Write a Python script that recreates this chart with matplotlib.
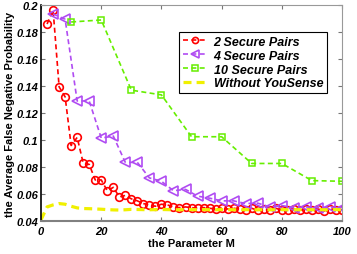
import matplotlib
matplotlib.use("Agg")
import matplotlib.pyplot as plt

x_red = list(range(2, 101, 2))
y_red = [0.186, 0.1965, 0.1395, 0.132, 0.096, 0.102, 0.083, 0.082, 0.0705, 0.0705,
         0.0625, 0.065, 0.058, 0.059, 0.0565, 0.055, 0.053, 0.052, 0.051, 0.0525,
         0.052, 0.0505, 0.050, 0.0505, 0.050, 0.0495, 0.050, 0.0495, 0.049, 0.0495,
         0.049, 0.0495, 0.049, 0.048, 0.0495, 0.048, 0.049, 0.0485, 0.0495, 0.048,
         0.0485, 0.049, 0.048, 0.049, 0.0485, 0.049, 0.0475, 0.049, 0.048, 0.0485]

x_purple = list(range(4, 101, 4))
y_purple = [0.1935, 0.1895, 0.129, 0.129, 0.1015, 0.103, 0.0835, 0.0835, 0.072, 0.0695,
            0.0625, 0.0635, 0.0585, 0.057, 0.055, 0.055, 0.053, 0.0533, 0.0505, 0.0515,
            0.050, 0.0505, 0.050, 0.0505, 0.050]

x_green = list(range(10, 101, 10))
y_green = [0.1875, 0.189, 0.137, 0.1335, 0.1025, 0.1025, 0.0827, 0.0827, 0.070, 0.0695]

x_yellow = list(range(0, 101, 2))
y_yellow = [0.041, 0.0505, 0.052, 0.053, 0.0525, 0.051, 0.0498, 0.0493, 0.0492, 0.049,
            0.0488, 0.0485, 0.0483, 0.0482, 0.0484, 0.0487, 0.0486, 0.0485, 0.0484, 0.0485,
            0.0486, 0.0485, 0.0484, 0.0484, 0.0485, 0.0485, 0.0484, 0.0485, 0.0484, 0.0484,
            0.0485, 0.0485, 0.0484, 0.0484, 0.0485, 0.0484, 0.0484, 0.0485, 0.0484, 0.0484,
            0.0485, 0.0484, 0.0484, 0.0485, 0.0484, 0.0484, 0.0485, 0.0484, 0.0484, 0.0485, 0.0484]

labels = ["2 Secure Pairs", "4 Secure Pairs", "10 Secure Pairs", "Without YouSense"]
xticks = [0, 20, 40, 60, 80, 100]
yticks = [0.04, 0.06, 0.08, 0.1, 0.12, 0.14, 0.16, 0.18, 0.2]
yticklabels = ["0.04", "0.06", "0.08", "0.1", "0.12", "0.14", "0.16", "0.18", "0.2"]

plt.rcParams['font.family'] = ['Liberation Sans', 'DejaVu Sans']

fig = plt.figure(figsize=(3.57, 2.55), dpi=100)
ax = fig.add_axes([0.115, 0.129, 0.843, 0.847])

dash = (3, 2)
ax.plot(x_red, y_red, linestyle=(0, dash), color='#FF0000', lw=1.2, marker='o',
        markersize=5.5, markerfacecolor='none', markeredgewidth=1.2, label=labels[0])
ax.plot(x_purple, y_purple, linestyle=(0, dash), color='#B04CF2', lw=1.2, marker='<',
        markersize=6.5, markerfacecolor='none', markeredgewidth=1.2, label=labels[1])
ax.plot(x_green, y_green, linestyle=(0, dash), color='#66EE00', lw=1.2, marker='s',
        markersize=4.8, markerfacecolor='none', markeredgewidth=1.1, label=labels[2])
ax.plot(x_yellow, y_yellow, linestyle=(0, (2.5, 1.6)), color='#F0F000', lw=2.3,
        label=labels[3])

ax.set_xlim(0, 100)
ax.set_ylim(0.04, 0.2)
ax.set_xticks(xticks)
ax.set_yticks(yticks)
ax.set_yticklabels(yticklabels)

fs = 8
ax.tick_params(direction='in', top=True, right=True, length=3, width=0.8,
               color='#777777', labelsize=fs, pad=2)
ax.tick_params(axis='x', pad=3.5)
for lab in ax.get_xticklabels() + ax.get_yticklabels():
    lab.set_fontweight('bold')
    lab.set_fontstyle('italic')

ax.spines['left'].set_color('black')
ax.spines['left'].set_linewidth(1.2)
ax.spines['bottom'].set_color('#808080')
ax.spines['bottom'].set_linewidth(1.5)
for s in ['top', 'right']:
    ax.spines[s].set_color('#999999')
    ax.spines[s].set_linewidth(0.8)

ax.set_xlabel('the Parameter M', fontsize=fs, fontweight='bold', labelpad=1.5)
ax.set_ylabel('the Average False Negative Probability', fontsize=fs, fontweight='bold', labelpad=1)

leg = ax.legend(loc='upper right', bbox_to_anchor=(0.95, 0.875), fancybox=False,
                framealpha=1, edgecolor='black', handlelength=2.0, handletextpad=0.45,
                borderpad=0.3, labelspacing=0.15, borderaxespad=0, markerscale=0.8,
                prop={'size': 9, 'weight': 'bold', 'style': 'italic'})
leg.get_frame().set_linewidth(0.8)

fig.savefig('out.png', dpi=100)
